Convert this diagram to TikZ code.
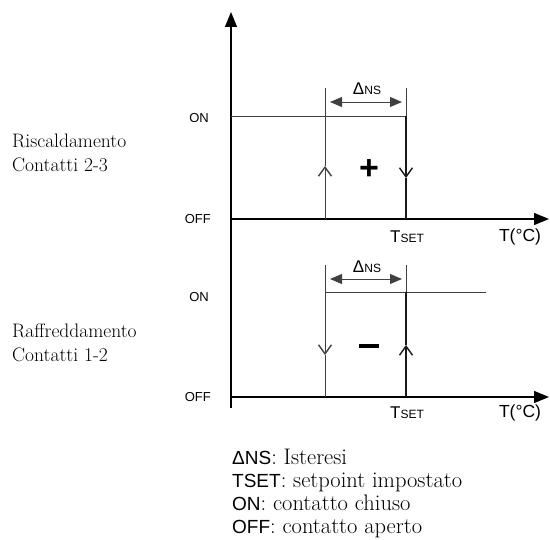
\documentclass[tikz,border=0pt]{standalone}
\usepackage{fontspec}
\newfontfamily\labelfont{Liberation Sans}
\usetikzlibrary{arrows.meta}
\begin{document}
\begin{tikzpicture}[x=1pt,y=-1pt,>=stealth,
    axis/.style={line width=1.3pt,-{Triangle[length=15pt,width=12pt]}},
    level/.style={line width=0.9pt,draw=black!75},
    active/.style={line width=1.4pt,draw=black!90},
    barb/.style={-{Straight Barb[length=9pt,width=13pt,line width=1.4pt]}},
    flow/.style={level,line width=1pt,barb},
    band/.style={line width=0.9pt,draw=black!75,{Triangle[length=12pt,width=10pt]}-{Triangle[length=12pt,width=10pt]}},
    state/.style={font=\labelfont\fontsize{13}{15}\selectfont,inner sep=0pt},
    side/.style={font=\fontsize{19.5}{24}\selectfont,align=left,inner sep=0pt},
    sign/.style={font=\labelfont\bfseries\fontsize{34}{34}\selectfont,inner sep=0pt}]
    \useasboundingbox (0,0) rectangle (550,540);
    % Axes
    \coordinate (base) at (231,408);
    \coordinate (top) at (231,12);
    \coordinate (o1) at (231,219);
    \coordinate (e1) at (549,219);
    \coordinate (o2) at (231,397);
    \coordinate (e2) at (549,397);
    \draw[axis] (base) -- (top);
    \draw[axis] (o1) -- (e1);
    \draw[axis] (o2) -- (e2);
    % Heating branch
    \coordinate (h1) at (325,219);
    \coordinate (h1m) at (325,166);
    \coordinate (h1t) at (325,88);
    \coordinate (h2) at (406,219);
    \coordinate (h2m) at (406,178);
    \coordinate (h2on) at (406,116);
    \coordinate (h2t) at (406,88);
    \coordinate (hon) at (231,116);
    \draw[flow] (h1) -- (h1m);
    \draw[level] (h1m) -- (h1t);
    \draw[level] (hon) -- (h2on);
    \draw[level] (h2t) -- (h2on);
    \draw[active,barb] (h2on) -- (h2m);
    \draw[active] (h2m) -- (h2);
    \draw[band] (330,102) -- (402,102);
    \node[sign] (plus) at (369,170) {+};
    % Cooling branch
    \coordinate (c1) at (325,397);
    \coordinate (c1m) at (325,355);
    \coordinate (c1on) at (325,292);
    \coordinate (c1t) at (325,265);
    \coordinate (c2) at (406,397);
    \coordinate (c2m) at (406,345);
    \coordinate (c2on) at (406,292);
    \coordinate (c2t) at (406,265);
    \coordinate (cend) at (486,292);
    \draw[level] (c1t) -- (c1on);
    \draw[flow] (c1on) -- (c1m);
    \draw[level] (c1m) -- (c1);
    \draw[level] (c1on) -- (cend);
    \draw[level] (c2t) -- (c2on);
    \draw[active,barb] (c2) -- (c2m);
    \draw[active] (c2m) -- (c2on);
    \draw[band] (330,279) -- (402,279);
    \node[sign] (minus) at (369,346) {\rule{20pt}{4.5pt}};
    % Hysteresis labels
    \node[font=\labelfont,inner sep=0pt] (dh) at (367,89) {{\fontsize{17}{17}\selectfont Δ}{\fontsize{12}{12}\selectfont NS}};
    \node[font=\labelfont,inner sep=0pt] (dc) at (367,267) {{\fontsize{17}{17}\selectfont Δ}{\fontsize{12}{12}\selectfont NS}};
    % Setpoint and temperature labels
    \node[font=\labelfont,inner sep=0pt] (ts1) at (407,237) {{\fontsize{17}{17}\selectfont T}{\fontsize{12}{12}\selectfont SET}};
    \node[font=\labelfont,inner sep=0pt] (ts2) at (407,413) {{\fontsize{17}{17}\selectfont T}{\fontsize{12}{12}\selectfont SET}};
    \node[font=\labelfont\fontsize{17.5}{17.5}\selectfont,inner sep=0pt] (tc1) at (520,237) {T(°C)};
    \node[font=\labelfont\fontsize{17.5}{17.5}\selectfont,inner sep=0pt] (tc2) at (520,413) {T(°C)};
    % State labels
    \node[state,anchor=east] (on1) at (209,118) {ON};
    \node[state,anchor=east] (off1) at (211,219) {OFF};
    \node[state,anchor=east] (on2) at (209,297) {ON};
    \node[state,anchor=east] (off2) at (211,397) {OFF};
    % Branch names
    \node[side,anchor=west] (heat) at (12,153) {Riscaldamento\\Contatti 2-3};
    \node[side,anchor=west] (cool) at (12,343) {Raffreddamento\\Contatti 1-2};
    % Key
    \node[font=\fontsize{22.5}{23}\selectfont,align=left,inner sep=0pt,anchor=west] (key) at (232,494)
      {{\labelfont\fontsize{19}{19}\selectfont ΔNS}: Isteresi\\
       {\labelfont\fontsize{19}{19}\selectfont TSET}: setpoint impostato\\
       {\labelfont\fontsize{19}{19}\selectfont ON}: contatto chiuso\\
       {\labelfont\fontsize{19}{19}\selectfont OFF}: contatto aperto};
  \end{tikzpicture}
\end{document}
